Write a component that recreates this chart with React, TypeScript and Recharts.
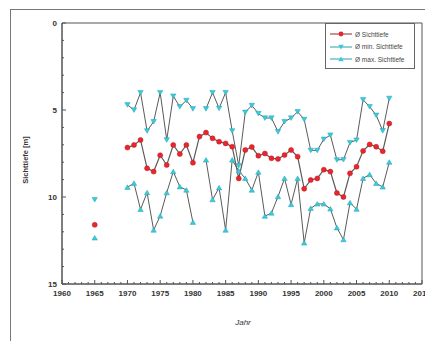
import React from 'react';
import { LineChart, Line, XAxis, YAxis, ReferenceArea } from 'recharts';

const years: number[] = [
  1965, 1966, 1967, 1968, 1969,
  1970, 1971, 1972, 1973, 1974, 1975, 1976, 1977, 1978, 1979,
  1980, 1981, 1982, 1983, 1984, 1985, 1986, 1987, 1988, 1989,
  1990, 1991, 1992, 1993, 1994, 1995, 1996, 1997, 1998, 1999,
  2000, 2001, 2002, 2003, 2004, 2005, 2006, 2007, 2008, 2009, 2010,
];

const meanDepth: (number | null)[] = [
  11.6, null, null, null, null,
  7.16, 7.01, 6.72, 8.35, 8.54, 7.6, 8.16, 7.01, 7.53, 7.01,
  8.03, 6.53, 6.3, 6.63, 6.82, 6.92, 7.11, 8.93, 7.3, 7.13,
  7.63, 7.5, 7.78, 7.81, 7.59, 7.3, 7.68, 9.53, 9.02, 8.93,
  8.43, 8.54, 9.77, 10.0, 8.64, 8.26, 7.35, 6.98, 7.11, 7.37, 5.78,
];

const minDepth: (number | null)[] = [
  10.15, null, null, null, null,
  4.7, 5.0, 4.0, 6.2, 5.67, 4.0, 6.72, 4.2, 4.81, 4.45,
  4.93, null, 4.93, 4.0, 4.9, 4.0, 6.2, 8.2, 5.13, 4.74,
  5.2, 5.46, 5.46, 6.25, 5.67, 5.46, 5.1, 5.54, 7.32, 7.32,
  6.68, 6.44, 7.87, 7.85, 6.87, 6.73, 4.41, 4.81, 5.3, 6.19, 4.33,
];

const maxDepth: (number | null)[] = [
  12.35, null, null, null, null,
  9.44, 9.21, 10.71, 9.75, 11.9, 11.09, 9.75, 8.54, 9.41, 9.6,
  11.45, null, 7.87, 10.15, 9.47, 11.9, 7.87, 8.5, 8.93, 9.6,
  8.57, 11.1, 10.92, 9.98, 8.93, 10.43, 8.93, 12.64, 10.65, 10.4,
  10.4, 10.68, 11.77, 12.45, 10.33, 10.7, 8.93, 8.71, 9.22, 9.42, 8.0,
];

const xTicks: number[] = [];
for (let y = 1960; y <= 2015; y++) xTicks.push(y);
const yTicks: number[] = [];
for (let v = 0; v <= 15; v++) yTicks.push(v);

const legendLabels = ['Ø Sichttiefe', 'Ø min. Sichttiefe', 'Ø max. Sichttiefe'];

const RED = '#e8262e';
const CYAN = '#3cc9d9';
const LINE = '#5a5a5a';
const AXIS = '#555555';
const FONT = '"Liberation Sans", Arial, sans-serif';

const data = years.map((year, i) => ({
  year,
  mean: meanDepth[i],
  min: minDepth[i],
  max: maxDepth[i],
}));

const CircleDot = (props: any) => {
  const { cx, cy, value, index } = props;
  if (value == null || cx == null || cy == null) return <g key={'c' + index} />;
  return <circle key={'c' + index} cx={cx} cy={cy} r={2.5} fill={RED} stroke="#c0151c" strokeWidth={0.5} />;
};

const DownTri = (props: any) => {
  const { cx, cy, value, index } = props;
  if (value == null || cx == null || cy == null) return <g key={'d' + index} />;
  const s = 2.7;
  return (
    <polygon
      key={'d' + index}
      points={`${cx - s},${cy - s * 0.8} ${cx + s},${cy - s * 0.8} ${cx},${cy + s * 0.9}`}
      fill={CYAN}
      stroke="#1fa8b8"
      strokeWidth={0.5}
    />
  );
};

const UpTri = (props: any) => {
  const { cx, cy, value, index } = props;
  if (value == null || cx == null || cy == null) return <g key={'u' + index} />;
  const s = 2.7;
  return (
    <polygon
      key={'u' + index}
      points={`${cx - s},${cy + s * 0.8} ${cx + s},${cy + s * 0.8} ${cx},${cy - s * 0.9}`}
      fill={CYAN}
      stroke="#1fa8b8"
      strokeWidth={0.5}
    />
  );
};

const XTick = (props: any) => {
  const { x, y, payload } = props;
  const v = payload.value as number;
  const major = v % 5 === 0;
  return (
    <g>
      <line x1={x} x2={x} y1={y} y2={y - (major ? 4 : 2)} stroke={AXIS} strokeWidth={1} />
      {major && (
        <text x={x} y={y + 12} textAnchor="middle" fontSize={8} fontWeight="bold" fill="#333" fontFamily={FONT}>
          {v}
        </text>
      )}
    </g>
  );
};

const YTick = (props: any) => {
  const { x, y, payload } = props;
  const v = payload.value as number;
  const major = v % 5 === 0;
  return (
    <g>
      <line x1={x} x2={x + (major ? 4 : 2)} y1={y} y2={y} stroke={AXIS} strokeWidth={1} />
      {major && (
        <text x={x - 5} y={y + 3} textAnchor="end" fontSize={8} fontWeight="bold" fill="#333" fontFamily={FONT}>
          {v}
        </text>
      )}
    </g>
  );
};

const LegendBox = () => (
  <div
    style={{
      position: 'absolute',
      left: 317,
      top: 15,
      width: 90,
      height: 46,
      border: '1.5px solid #666',
      background: '#fff',
      boxSizing: 'border-box',
      padding: '4px 3px',
      fontFamily: FONT,
      fontSize: 6.5,
      color: '#444',
    }}
  >
    {legendLabels.map((label, i) => (
      <div key={label} style={{ display: 'flex', alignItems: 'center', height: 12.5 }}>
        <svg width={24} height={10} style={{ flex: 'none' }}>
          <line x1={1} x2={23} y1={5} y2={5} stroke={i === 0 ? '#8a2a2a' : '#2aa0ad'} strokeWidth={1} />
          {i === 0 && <circle cx={12} cy={5} r={2.4} fill={RED} />}
          {i === 1 && <polygon points="9.3,2.8 14.7,2.8 12,7.6" fill={CYAN} />}
          {i === 2 && <polygon points="9.3,7.2 14.7,7.2 12,2.4" fill={CYAN} />}
        </svg>
        <span style={{ marginLeft: 2, whiteSpace: 'nowrap' }}>{label}</span>
      </div>
    ))}
  </div>
);

export default function App() {
  return (
    <div style={{ position: 'relative', width: 425, height: 333, fontFamily: FONT }}>
      <div
        style={{
          position: 'absolute',
          left: 2,
          top: 1,
          width: 440,
          height: 345,
          border: '1px solid #777',
          boxSizing: 'border-box',
        }}
      />
      <LineChart
        width={425}
        height={333}
        data={data}
        margin={{ top: 15, right: 11, left: 0, bottom: 0 }}
      >
        <XAxis
          dataKey="year"
          type="number"
          domain={[1960, 2015]}
          ticks={xTicks}
          interval={0}
          height={57}
          tickSize={0}
          tickMargin={0}
          tickLine={false}
          axisLine={{ stroke: AXIS }}
          tick={<XTick />}
        />
        <YAxis
          type="number"
          domain={[0, 15]}
          reversed
          ticks={yTicks}
          interval={0}
          width={54}
          tickSize={0}
          tickMargin={0}
          tickLine={false}
          axisLine={{ stroke: AXIS }}
          tick={<YTick />}
        />
        <ReferenceArea x1={1960} x2={2015} y1={0} y2={15} fill="none" stroke={AXIS} strokeWidth={1} />
        <Line
          dataKey="min"
          stroke={LINE}
          strokeWidth={1}
          dot={<DownTri />}
          isAnimationActive={false}
          connectNulls={false}
        />
        <Line
          dataKey="max"
          stroke={LINE}
          strokeWidth={1}
          dot={<UpTri />}
          isAnimationActive={false}
          connectNulls={false}
        />
        <Line
          dataKey="mean"
          stroke={LINE}
          strokeWidth={1.2}
          dot={<CircleDot />}
          isAnimationActive={false}
          connectNulls={false}
        />
      </LineChart>
      <div
        style={{
          position: 'absolute',
          left: 17,
          top: 152,
          transform: 'translate(-50%, -50%) rotate(-90deg)',
          fontSize: 7.5,
          fontWeight: 'bold',
          color: '#333',
          whiteSpace: 'nowrap',
        }}
      >
        Sichttiefe [m]
      </div>
      <div
        style={{
          position: 'absolute',
          left: 235,
          top: 314,
          transform: 'translate(-50%, -50%)',
          fontSize: 8,
          fontStyle: 'italic',
          color: '#333',
        }}
      >
        Jahr
      </div>
      <LegendBox />
    </div>
  );
}
